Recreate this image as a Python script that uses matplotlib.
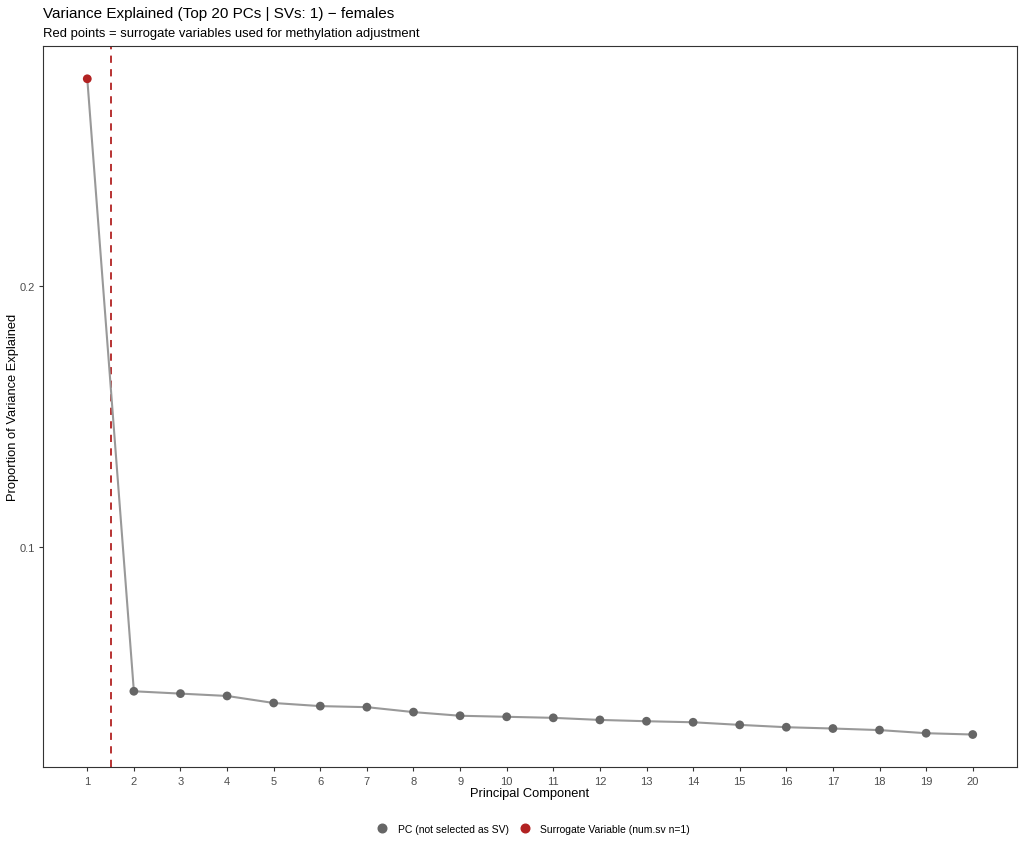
import matplotlib
matplotlib.use("Agg")
import matplotlib.pyplot as plt
from matplotlib.lines import Line2D

pcs = list(range(1, 21))
variance = [0.2797, 0.0446, 0.0437, 0.0428, 0.0401, 0.0389, 0.0385, 0.0366, 0.0352, 0.0348,
            0.0344, 0.0336, 0.0331, 0.0327, 0.0317, 0.0308, 0.0303, 0.0297, 0.0285, 0.0280]
num_sv = 1
x_ticks = pcs
y_ticks = [0.1, 0.2]

plt.rcParams['font.family'] = ['Liberation Sans', 'DejaVu Sans']

W, H = 1024, 853
fig = plt.figure(figsize=(W / 100, H / 100), dpi=100)
ax_l, ax_r, ax_b, ax_t = 43, 1017, 768.3, 47
ax = fig.add_axes([ax_l / W, (H - ax_b) / H, (ax_r - ax_l) / W, (ax_b - ax_t) / H])

grey_pt = '#666666'
red = '#B22222'

ax.plot(pcs, variance, color='#999999', lw=1.5, zorder=2)
cols = [red if p <= num_sv else grey_pt for p in pcs]
ax.scatter(pcs, variance, c=cols, s=40, zorder=3, linewidths=0)
ax.axvline(num_sv + 0.5, color=red, ls=(0, (4, 3.5)), lw=1.3, zorder=1)

ax.set_xlim(0.05, 20.95)
lo, hi = min(variance), max(variance)
pad = (hi - lo) * 0.05
ax.set_ylim(lo - pad, hi + pad)
ax.set_xticks(x_ticks)
ax.set_yticks(y_ticks)
ax.set_yticklabels([f"{v:g}" for v in y_ticks])
ax.tick_params(colors='#333333', labelcolor='#4D4D4D', labelsize=8, length=3, width=0.8, pad=3)
for s in ax.spines.values():
    s.set_color('#333333')
    s.set_linewidth(0.8)

ax.set_xlabel('Principal Component', fontsize=9.3)
ax.set_ylabel('Proportion of Variance Explained', fontsize=9.3)
ax.xaxis.set_label_coords(0.5, (ax_b - 794) / (ax_b - ax_t))
ax.yaxis.set_label_coords((13 - ax_l) / (ax_r - ax_l), 0.5)
ax.xaxis.label.set_va('center')
ax.yaxis.label.set_va('center')

fig.text(43 / W, 1 - 18 / H, 'Variance Explained (Top 20 PCs | SVs: 1) \u2212 females',
         fontsize=11.0, ha='left', va='baseline')
fig.text(43 / W, 1 - 37 / H, 'Red points = surrogate variables used for methylation adjustment',
         fontsize=9.35, ha='left', va='baseline')

handles = [Line2D([], [], marker='o', ls='', color=grey_pt, markersize=6.2),
           Line2D([], [], marker='o', ls='', color=red, markersize=6.2)]
fig.legend(handles, ['PC (not selected as SV)', f'Surrogate Variable (num.sv n={num_sv})'],
           loc='center', bbox_to_anchor=(533 / W, 1 - 830 / H), ncol=2, frameon=False,
           fontsize=7.5, handletextpad=0.9, columnspacing=0.9, handlelength=1.2)

fig.savefig('out.png', dpi=100)
